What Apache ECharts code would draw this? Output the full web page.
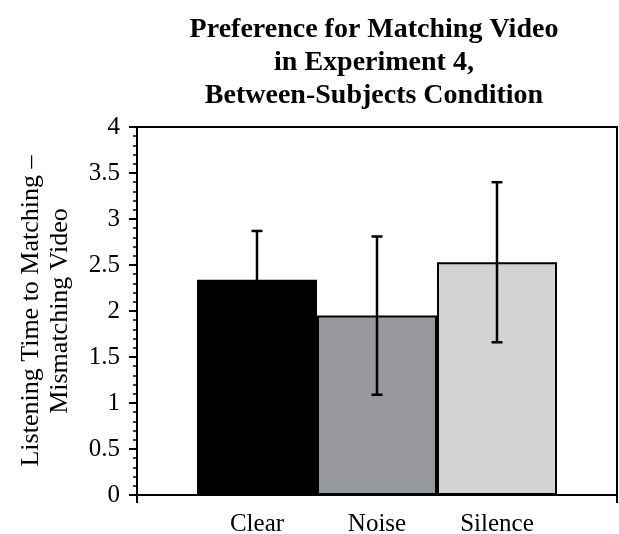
<!DOCTYPE html>
<html>
<head>
<meta charset="utf-8">
<script src="https://cdn.jsdelivr.net/npm/echarts@6/dist/echarts.min.js"></script>
<style>html,body{margin:0;padding:0;background:#fff}#c{width:619px;height:534px}</style>
</head>
<body>
<div id="c"></div>
<script>
const categories = ['Clear', 'Noise', 'Silence'];
const positions = [1, 2, 3];
const means = [2.34, 1.95, 2.53];
const errLow = [1.82, 1.09, 1.66];
const errHigh = [2.87, 2.81, 3.40];
const barColors = ['#000000', '#97989c', '#d2d3d5'];
const titleLines = ['Preference for Matching Video', 'in Experiment 4,', 'Between-Subjects Condition'];
const yName = 'Listening Time to Matching \u2013\nMismatching Video';

const FONT = 'Liberation Serif, Times New Roman, serif';
const chart = echarts.init(document.getElementById('c'), null, {renderer: 'canvas'});

const barData = positions.map((p, i) => ({value: [p, means[i]], itemStyle: {color: barColors[i]}}));
const errData = positions.map((p, i) => [p, errLow[i], errHigh[i]]);

chart.setOption({
  animation: false,
  backgroundColor: '#fff',
  graphic: titleLines.map((t, i) => ({
    type: 'text', x: 374, y: 30 + i * 33,
    style: {text: t, font: 'bold 28px ' + FONT, fill: '#000', textAlign: 'center', textVerticalAlign: 'middle'}
  })),
  grid: {left: 137, top: 127, right: 2, bottom: 39, containLabel: false, outerBoundsMode: 'none',
    show: true, borderColor: '#000', borderWidth: 2, backgroundColor: 'transparent'},
  xAxis: {
    type: 'value', min: 0, max: 4, interval: 1,
    axisLine: {show: true, lineStyle: {color: '#000', width: 2}},
    axisTick: {show: true, customValues: [0, 4], length: 8, lineStyle: {color: '#000', width: 2}},
    axisLabel: {customValues: positions, formatter: v => categories[positions.indexOf(v)] || '', fontFamily: FONT, fontSize: 25, color: '#000', margin: 17},
    splitLine: {show: false}
  },
  yAxis: {
    type: 'value', min: 0, max: 4, interval: 0.5,
    name: yName, nameLocation: 'middle', nameGap: 62,
    nameTextStyle: {fontFamily: FONT, fontSize: 26, color: '#000', lineHeight: 29},
    axisLine: {show: true, lineStyle: {color: '#000', width: 2}},
    axisTick: {show: true, length: 8, lineStyle: {color: '#000', width: 2}},
    minorTick: {show: true, splitNumber: 5, length: 4, lineStyle: {color: '#000', width: 1.5}},
    axisLabel: {fontFamily: FONT, fontSize: 25, color: '#000', margin: 17, formatter: v => String(v)},
    splitLine: {show: false}
  },
  series: [
    {
      type: 'bar', data: barData, barWidth: 120,
      itemStyle: {borderColor: '#000', borderWidth: 2}
    },
    {
      type: 'custom', data: errData, z: 10,
      renderItem: (params, api) => {
        const x = api.value(0);
        const lo = api.coord([x, api.value(1)]);
        const hi = api.coord([x, api.value(2)]);
        const cap = 5.5;
        const style = {stroke: '#000', lineWidth: 2.5, fill: null};
        return {type: 'group', children: [
          {type: 'line', shape: {x1: lo[0], y1: lo[1], x2: hi[0], y2: hi[1]}, style},
          {type: 'line', shape: {x1: lo[0] - cap, y1: lo[1], x2: lo[0] + cap, y2: lo[1]}, style},
          {type: 'line', shape: {x1: hi[0] - cap, y1: hi[1], x2: hi[0] + cap, y2: hi[1]}, style}
        ]};
      }
    }
  ]
});
</script>
</body>
</html>
